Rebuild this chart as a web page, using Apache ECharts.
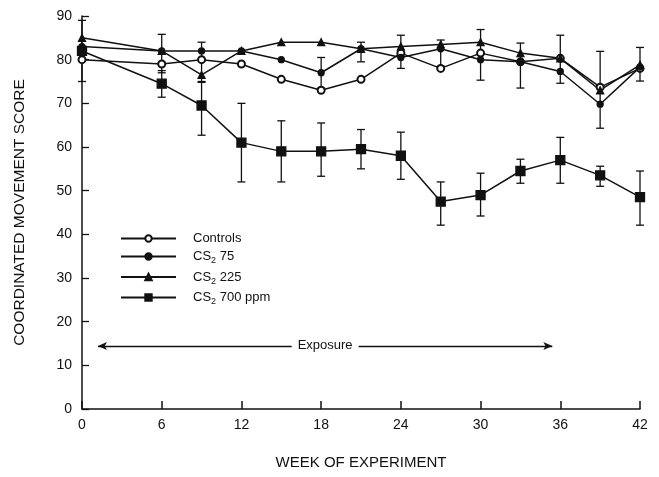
<!DOCTYPE html>
<html>
<head>
<meta charset="utf-8">
<script src="https://cdn.jsdelivr.net/npm/echarts@6/dist/echarts.min.js"></script>
<style>
  html, body { margin: 0; padding: 0; background: #fff; }
  #chart { width: 659px; height: 477px; }
</style>
</head>
<body>
<div id="chart"></div>
<script>
// weeks and scores
const weeks = [0, 6, 9, 12, 15, 18, 21, 24, 27, 30, 33, 36, 39, 42]
const controls = [80, 79, 80, 79, 75.5, 73, 75.5, 81.5, 78, 81.5, 79.5, 80.3, 73.7, 78]
const cs75 = [83, 82, 82, 82, 80, 77, 82.5, 80.5, 82.5, 80, 79.5, 77.3, 69.8, 78.3]
const cs225 = [85, 82, 76.5, 82, 84, 84, 82.5, 83, 83.5, 84, 81.5, 80.3, 73, 78.8]
const cs700 = [82, 74.5, 69.5, 61, 59, 59, 59.5, 58, 47.5, 49, 54.5, 57, 53.5, 48.5]

// error bars of the 700 ppm group (low / high)
const cs700Low = [75, 71.4, 62.7, 52, 52, 53.3, 55, 52.6, 42.1, 44.2, 51.7, 51.7, 51, 42.1]
const cs700High = [89, 77.5, 75, 70, 66, 65.5, 64, 63.4, 52, 54, 57.2, 62.2, 55.6, 54.5]

// error bars visible around the upper groups: [week, low, high]
const upperErr = [
  [6, 77, 85.8], [9, 74.8, 84], [18, 73.5, 80.5], [21, 79.5, 84], [24, 78, 85.6],
  [27, 78.5, 84.5], [30, 75.3, 86.9], [33, 73.5, 83.8], [36, 74.6, 85.6],
  [39, 64.3, 81.9], [42, 75.1, 82.8]
]

const exposureFrom = 1.2
const exposureTo = 35.4
const exposureY = 14.4

const ink = '#111'
const font = 'Liberation Sans, Arial, sans-serif'

function pairs(vals) {
  return weeks.map((w, i) => [w, vals[i]])
}

function errorBar(params, api) {
  const x = api.value(0)
  const top = api.coord([x, api.value(2)])
  const bot = api.coord([x, api.value(1)])
  const cap = 4
  const style = { stroke: ink, lineWidth: 1.3 }
  return {
    type: 'group',
    children: [
      { type: 'line', shape: { x1: top[0], y1: top[1], x2: bot[0], y2: bot[1] }, style },
      { type: 'line', shape: { x1: top[0] - cap, y1: top[1], x2: top[0] + cap, y2: top[1] }, style },
      { type: 'line', shape: { x1: bot[0] - cap, y1: bot[1], x2: bot[0] + cap, y2: bot[1] }, style },
    ],
  }
}

function lineSeries(name, vals, symbol, size, extra) {
  return Object.assign({
    name,
    type: 'line',
    data: pairs(vals),
    symbol,
    symbolSize: size,
    z: 3,
    lineStyle: { color: ink, width: 1.5 },
    itemStyle: { color: ink, borderColor: ink, borderWidth: 1.3 },
    emphasis: { disabled: true },
  }, extra || {})
}

const chart = echarts.init(document.getElementById('chart'))

const rich = {
  t: { fontSize: 13, color: ink, fontFamily: font },
  s: { fontSize: 9, color: ink, fontFamily: font, padding: [9, 0, 0, 0] },
}

chart.setOption({
  animation: false,
  textStyle: { fontFamily: font, color: ink },
  grid: { left: 82, right: 19, top: 16, bottom: 68 },
  legend: {
    orient: 'vertical',
    left: 120,
    top: 232,
    padding: 0,
    itemWidth: 55,
    itemHeight: 8,
    itemGap: 5,
    selectedMode: false,
    textStyle: { padding: [0, 0, 0, 12], rich },
    formatter: (n) => {
      if (n === 'Controls') return '{t|Controls}'
      return '{t|CS}{s|2}{t| ' + n.replace('CS2 ', '') + '}'
    },
    data: ['Controls', 'CS2 75', 'CS2 225', 'CS2 700 ppm'],
  },
  xAxis: {
    type: 'value',
    min: 0,
    max: 42,
    interval: 6,
    name: 'WEEK OF EXPERIMENT',
    nameLocation: 'middle',
    nameGap: 46,
    nameTextStyle: { fontSize: 15, color: ink },
    axisLine: { lineStyle: { color: ink, width: 1.5 } },
    axisTick: { inside: true, length: 8, lineStyle: { color: ink, width: 1.5 } },
    axisLabel: { color: ink, fontSize: 14, margin: 9 },
    splitLine: { show: false },
  },
  yAxis: {
    type: 'value',
    min: 0,
    max: 90,
    interval: 10,
    name: 'COORDINATED MOVEMENT SCORE',
    nameLocation: 'middle',
    nameGap: 54,
    nameTextStyle: { fontSize: 15.5, color: ink },
    axisLine: { show: true, lineStyle: { color: ink, width: 1.5 } },
    axisTick: { show: true, inside: true, length: 7, lineStyle: { color: ink, width: 1.3 } },
    axisLabel: { color: ink, fontSize: 14, margin: 10 },
    splitLine: { show: false },
  },
  series: [
    {
      type: 'custom',
      renderItem: errorBar,
      data: weeks.map((w, i) => [w, cs700Low[i], cs700High[i]]),
      encode: { x: 0, y: [1, 2] },
      z: 1,
      silent: true,
    },
    {
      type: 'custom',
      renderItem: errorBar,
      data: upperErr,
      encode: { x: 0, y: [1, 2] },
      z: 1,
      silent: true,
    },
    lineSeries('Controls', controls, 'emptyCircle', 7),
    lineSeries('CS2 75', cs75, 'circle', 6),
    lineSeries('CS2 225', cs225, 'triangle', 7),
    lineSeries('CS2 700 ppm', cs700, 'rect', 9, {
      markLine: {
        silent: true,
        symbol: ['arrow', 'arrow'],
        symbolSize: [6, 9],
        lineStyle: { color: ink, width: 1.3, type: 'solid' },
        label: {
          show: true,
          position: 'middle',
          distance: -8,
          formatter: 'Exposure',
          color: ink,
          fontSize: 13,
          backgroundColor: '#fff',
          padding: [2, 6],
        },
        data: [[
          { coord: [exposureFrom, exposureY] },
          { coord: [exposureTo, exposureY] },
        ]],
      },
    }),
  ],
})
</script>
</body>
</html>
